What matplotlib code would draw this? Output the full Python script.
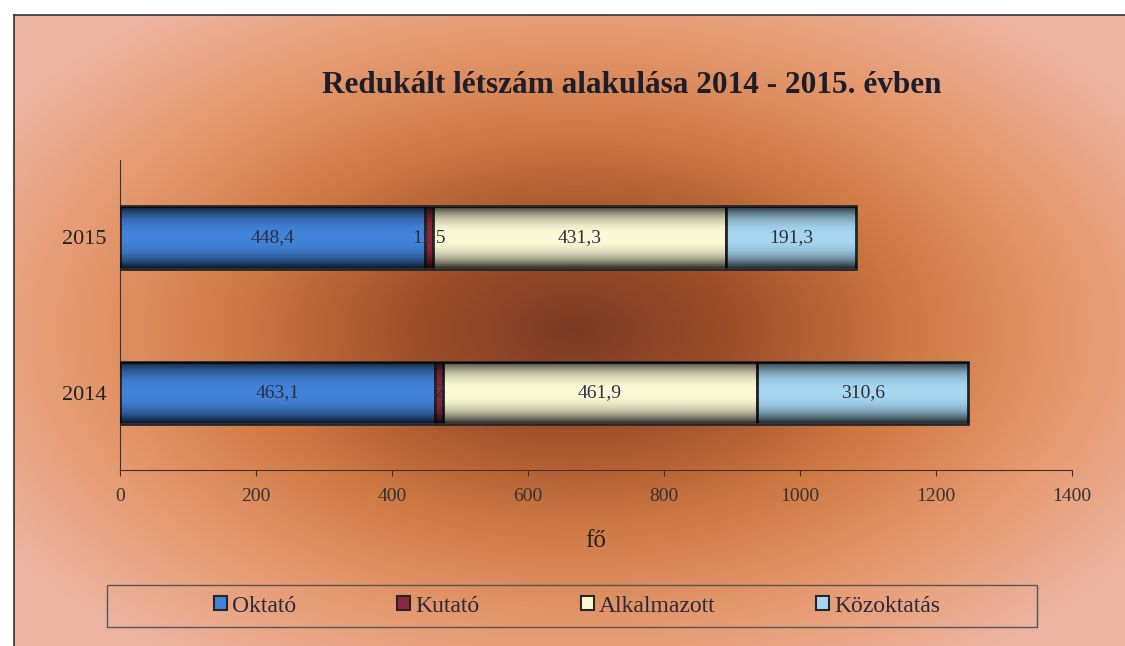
import matplotlib.pyplot as plt
import matplotlib.colors as mcolors
from matplotlib.patches import Patch
import numpy as np

# Data
years = ['2014', '2015']
oktato = [463.1, 448.4]
kutato = [12, 11.5]
alkalmazott = [461.9, 431.3]
kozoktatas = [310.6, 191.3]
series_names = ['Oktató', 'Kutató', 'Alkalmazott', 'Közoktatás']
series_colors = ['#4283da', '#8a2840', '#fbf8d6', '#a6d6f0']
label_values = [
    ['463,1', '2', '461,9', '310,6'],
    ['448,4', '11,5', '431,3', '191,3'],
]

plt.rcParams['font.family'] = ['Liberation Serif', 'DejaVu Serif']

fig = plt.figure(figsize=(11.25, 6.46), dpi=100)

# Background gradient (radial, dark in the middle)
bg = fig.add_axes([14 / 1125, 0, 1 - 14 / 1125, 1 - 15 / 646], zorder=-10)
W, H = 1111, 631
xx, yy = np.meshgrid(np.arange(W), np.arange(H))
cx, cy = 560, 315
r = np.sqrt(((xx - cx) / 680) ** 2 + ((yy - cy) / 400) ** 2)
r = np.clip(r, 0, 1)
cmap = mcolors.LinearSegmentedColormap.from_list(
    'bg', [(0, '#7a3a22'), (0.25, '#a0502a'), (0.5, '#cf7a45'),
           (0.75, '#e69a70'), (1, '#ecb4a0')])
bg.imshow(r, cmap=cmap, vmin=0, vmax=1, aspect='auto', extent=(0, 1, 0, 1))
bg.set_xlim(0, 1)
bg.set_ylim(0, 1)
for s in ['right', 'bottom']:
    bg.spines[s].set_visible(False)
for s in ['left', 'top']:
    bg.spines[s].set_color('#333333')
    bg.spines[s].set_linewidth(1.2)
bg.set_xticks([])
bg.set_yticks([])

ax = fig.add_axes([120 / 1125, 1 - 470 / 646, 952 / 1125, 310 / 646])
ax.patch.set_alpha(0)

# vertical shading used on top of every bar (dark at top and bottom)
t = np.linspace(-1, 1, 100)
shade = np.zeros((100, 2, 4))
shade[..., 3] = (np.abs(t) ** 2.5 * 0.8)[:, None]

y = np.arange(len(years))
left = np.zeros(len(years))
all_series = [oktato, kutato, alkalmazott, kozoktatas]
for i, (vals, col) in enumerate(zip(all_series, series_colors)):
    vals = np.array(vals)
    bars = ax.barh(y, vals, left=left, height=0.4, color=col,
                   edgecolor='#262626', linewidth=2.0, zorder=3)
    for b in bars:
        x0, y0 = b.get_x(), b.get_y()
        im = ax.imshow(shade, extent=(x0, x0 + b.get_width(), y0, y0 + b.get_height()),
                       aspect='auto', zorder=3.5, interpolation='bilinear')
        im.set_clip_path(b)
    for j in range(len(years)):
        cx_ = left[j] + vals[j] / 2
        ax.text(cx_, y[j], label_values[j][i], ha='center', va='center',
                fontsize=14, color='#2e2e3e', zorder=4)
    left += vals

ax.set_xlim(0, 1400)
ax.set_ylim(-0.5, 1.5)
ax.set_xticks(np.arange(0, 1401, 200))
ax.tick_params(axis='x', labelsize=14, colors='#333333', length=4, pad=9)
ax.set_yticks(y)
ax.set_yticklabels(years)
ax.tick_params(axis='y', labelsize=16, length=0, pad=10, colors='#222222')
for s in ['top', 'right']:
    ax.spines[s].set_visible(False)
ax.spines['left'].set_color('#333333')
ax.spines['bottom'].set_color('#4a3020')
ax.set_xlabel('fő', fontsize=18, labelpad=18, color='#222222')

fig.text(0.562, 0.868, 'Redukált létszám alakulása 2014 - 2015. évben',
         ha='center', va='center', fontsize=22.5, fontweight='bold', color='#1e1e2a')

handles = [Patch(facecolor=c, edgecolor='#262626', linewidth=1.5) for c in series_colors]
leg = fig.legend(handles, series_names, loc='center', ncol=4,
                 bbox_to_anchor=(577 / 1125, 1 - 606 / 646),
                 bbox_transform=fig.transFigure, fontsize=17, frameon=False,
                 handlelength=0.55, handleheight=0.55,
                 handletextpad=0.2, columnspacing=4.3, borderaxespad=0)
for t_ in leg.get_texts():
    t_.set_color('#2a2a3a')
# legend frame as in the original (fixed box)
frame = plt.Rectangle((107 / 1125, 1 - 627 / 646), 930 / 1125, 42 / 646,
                      transform=fig.transFigure, fill=False, edgecolor='#555555',
                      linewidth=1.0)
fig.patches.append(frame)

fig.savefig('out.png', dpi=100)
